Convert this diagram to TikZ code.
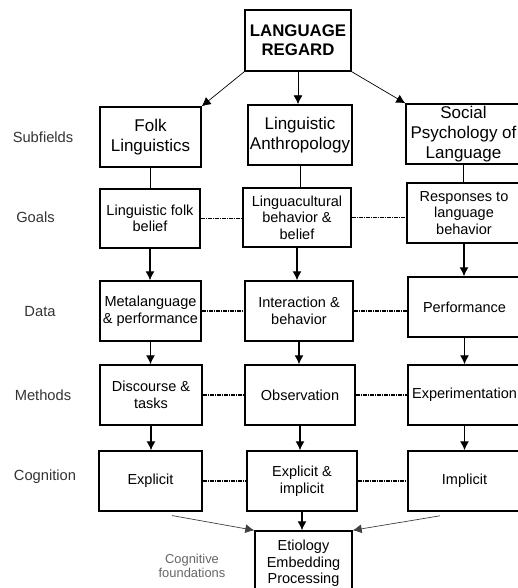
\documentclass[tikz,border=0pt]{standalone}
\usepackage{fontspec}
\setmainfont{Liberation Sans}
\usepackage{tikz}
\usetikzlibrary{shapes,arrows.meta,positioning,calc}
\tikzstyle{box} = [draw, line width=1.4pt, inner sep=0pt, align=center, font=\fontsize{14.5}{16.5}\selectfont]
\tikzstyle{bigbox} = [box, font=\fontsize{17}{20}\selectfont]
\tikzstyle{rowlabel} = [text=black!80, font=\fontsize{14.7}{17}\selectfont]
\tikzstyle{link} = [draw, line width=1.2pt, >={Latex[length=9pt,width=9pt]}]
\tikzstyle{dashdot} = [draw, line width=1.3pt, dash pattern=on 4pt off 1pt on 1pt off 1pt]
\tikzset{>={Latex[length=9pt,width=9pt]}}

\begin{document}
\begin{tikzpicture}[x=1pt,y=-1pt]
      \useasboundingbox (0,0) rectangle (518,588);

      % top
      \node [box, font=\bfseries\fontsize{16.8}{19}\selectfont, minimum width=106pt, minimum height=61pt] (lr) at (298,40.5) {LANGUAGE\\REGARD};

      % row labels
      \node [rowlabel] (lsub) at (43,137) {Subfields};
      \node [rowlabel] (lgoal) at (35.5,217) {Goals};
      \node [rowlabel] (ldata) at (40,312) {Data};
      \node [rowlabel] (lmeth) at (43,395) {Methods};
      \node [rowlabel] (lcog) at (45,477) {Cognition};
      \node [text=black!60, align=center, font=\fontsize{12.9}{14}\selectfont] (lfound) at (192,566) {Cognitive\\foundations};

      % subfields
      \node [bigbox, minimum width=101pt, minimum height=60pt] (folk) at (150.5,137) {Folk\\Linguistics};
      \node [bigbox, minimum width=104pt, minimum height=60pt] (anth) at (300,135) {Linguistic\\Anthropology};
      \node [bigbox, minimum width=115pt, minimum height=60pt] (socp) at (463.5,134) {Social\\Psychology of\\Language};

      % goals
      \node [box, minimum width=100pt, minimum height=59pt] (fb) at (150,218.5) {Linguistic folk\\belief};
      \node [box, minimum width=108pt, minimum height=59pt] (lc) at (297,217.5) {Linguacultural\\behavior \&\\belief};
      \node [box, minimum width=114pt, minimum height=60pt] (rb) at (464,213) {Responses to\\language\\behavior};

      % data
      \node [box, minimum width=101pt, minimum height=60pt] (meta) at (150.5,311) {Metalanguage\\\& performance};
      \node [box, minimum width=108pt, minimum height=60pt] (inter) at (299,311) {Interaction \&\\behavior};
      \node [box, minimum width=113pt, minimum height=60pt] (perf) at (464.5,307) {Performance};

      % methods
      \node [box, minimum width=102pt, minimum height=60pt] (disc) at (151,395) {Discourse \&\\tasks};
      \node [box, minimum width=110pt, minimum height=60pt] (obs) at (300,395) {Observation};
      \node [box, minimum width=113pt, minimum height=60pt] (expt) at (464.5,395) {Experimentation};

      % cognition
      \node [box, minimum width=103pt, minimum height=60pt] (expl) at (150.5,481) {Explicit};
      \node [box, minimum width=110pt, minimum height=60pt] (expimp) at (302,481) {Explicit \&\\implicit};
      \node [box, minimum width=113pt, minimum height=60pt] (impl) at (464.5,481) {Implicit};

      \node [box, minimum width=97pt, minimum height=65pt] (etio) at (303.5,563.5) {Etiology\\Embedding\\Processing};

      % arrows from the top
      \path [link, ->, line width=0.7pt] (lr.south west) -- (folk.north east);
      \path [link, ->, line width=0.9pt] (lr.south) -- (lr.south |- anth.north);
      \path [link, ->, line width=0.7pt] (lr.south east) -- (socp.north west);

      \path [link] (folk.south) -- (folk.south |- fb.north);
      \path [link, line width=0.8pt] (anth.south) -- (anth.south |- lc.north);
      \path [link, line width=0.8pt] (socp.south) -- (socp.south |- rb.north);

      \path [link, ->] (fb.south) -- (fb.south |- meta.north);
      \path [link, ->] (lc.south) -- (lc.south |- inter.north);
      \path [link, ->] (rb.south) -- (rb.south |- perf.north);

      \path [link, ->] (meta.south) -- (meta.south |- disc.north);
      \path [link, ->] (inter.south) -- (inter.south |- obs.north);
      \path [link, ->] (perf.south) -- (perf.south |- expt.north);

      \path [link, ->] (disc.south) -- (disc.south |- expl.north);
      \path [link, ->] (obs.south) -- (obs.south |- expimp.north);
      \path [link, ->] (expt.south) -- (expt.south |- impl.north);

      \path [link, ->] (expimp.south) -- (expimp.south |- etio.north);
      \path [link, ->, line width=0.7pt, black!75, shorten <=22pt] (expl.south) -- (etio.north west);
      \path [link, ->, line width=0.7pt, black!75, shorten <=25pt] (impl.south) -- (etio.north east);

      % dash-dot links
      \path [dashdot] (fb.east) -- (fb.east -| lc.west);
      \path [dashdot] (lc.east) -- (lc.east -| rb.west);
      \path [dashdot] (meta.east) -- (inter.west);
      \path [dashdot] (inter.east) -- (inter.east -| perf.west);
      \path [dashdot] (disc.east) -- (obs.west);
      \path [dashdot] (obs.east) -- (expt.west);
      \path [dashdot] (expl.east) -- (expimp.west);
      \path [dashdot] (expimp.east) -- (impl.west);
\end{tikzpicture}
\end{document}
